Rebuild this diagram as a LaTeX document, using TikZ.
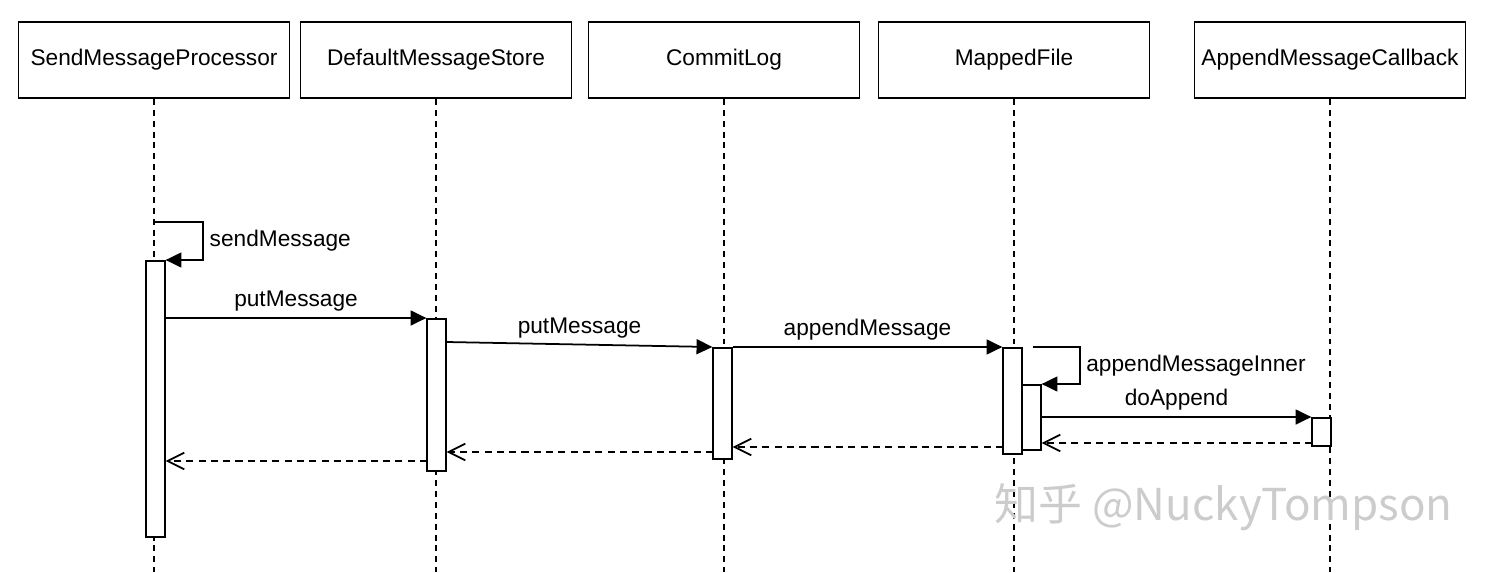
\documentclass[tikz,border=0pt]{standalone}
\usepackage{fontspec}
\setmainfont{Liberation Sans}
\newfontfamily\cjkfont{Noto Sans CJK SC}
\usetikzlibrary{arrows.meta, positioning}

\begin{document}
\begin{tikzpicture}[x=0.02cm, y=-0.02cm,
    font=\fontsize{12.9}{15}\selectfont,
    line width=1pt,
    actor/.style={draw, fill=white, minimum width=5.42cm, minimum height=1.52cm, inner sep=0pt},
    bar/.style={draw, fill=white, minimum width=0.37cm, inner sep=0pt, anchor=north},
    life/.style={line width=0.9pt, dash pattern=on 3.4pt off 2.8pt},
    call/.style={-{Triangle[length=9pt, width=8.5pt]}},
    reply/.style={dash pattern=on 4pt off 3pt, -{Straight Barb[length=9.5pt, width=9.5pt]}}]
  \useasboundingbox (0,0) rectangle (1492,572);
  % participants
  \node[actor] (smp) at (154,60) {SendMessageProcessor};
  \node[actor] (dms) at (436,60) {DefaultMessageStore};
  \node[actor] (cl)  at (724,60) {CommitLog};
  \node[actor] (mf)  at (1014,60) {MappedFile};
  \node[actor] (amc) at (1330,60) {AppendMessageCallback};
  % lifelines
  \foreach \p in {smp, dms, cl, mf, amc} {
    \coordinate (\p End) at (\p.south |- 0,572);
    \draw[life] (\p.south) -- (\p End);
  }
  % activations
  \node[bar, minimum height=5.52cm] (smpA) at (155.5,260) {};
  \node[bar, minimum height=3.04cm] (dmsA) at (436.5,318) {};
  \node[bar, minimum height=2.22cm] (clA)  at (722.5,347) {};
  \node[bar, minimum height=2.12cm] (mfA)  at (1012.5,347) {};
  \node[bar, minimum height=1.30cm] (mfB)  at (1031.5,384) {};
  \node[bar, minimum height=0.56cm] (amcA) at (1321.5,417) {};
  % calls
  \coordinate (smpLoop) at (155,222);
  \draw[call] (smpLoop) -- ++(48,0) |- node[pos=0.25, right] {sendMessage} (smpA.north east);
  \draw[call] (smpA.north east |- dmsA.north) -- node[above] {putMessage} (dmsA.north west);
  \draw[call] (dmsA.north east) ++(0,24) -- node[above] {putMessage} (clA.north west);
  \draw[call] (clA.north east) -- node[above] {appendMessage} (mfA.north west);
  \draw[call] (mfA.north east) ++(10,0) -- ++(47,0) |- node[pos=0.25, right] {appendMessageInner} (mfB.north east);
  \draw[call] (mfB.east |- amcA.north) -- node[above] {doAppend} (amcA.north west);
  % returns
  \coordinate (amcRet) at (1312,443);
  \coordinate (mfRet) at (1003,447);
  \coordinate (clRet) at (713,452);
  \coordinate (dmsRet) at (427,461);
  \draw[reply] (amcRet) -- (amcRet -| mfB.east);
  \draw[reply] (mfRet) -- (mfRet -| clA.east);
  \draw[reply] (clRet) -- (clRet -| dmsA.east);
  \draw[reply] (dmsRet) -- (dmsRet -| smpA.east);
  % watermark
  \node[anchor=west, text=gray!40, font=\cjkfont\fontsize{25}{28}\selectfont] (mark) at (988,507) {知乎 @NuckyTompson};
\end{tikzpicture}
\end{document}
